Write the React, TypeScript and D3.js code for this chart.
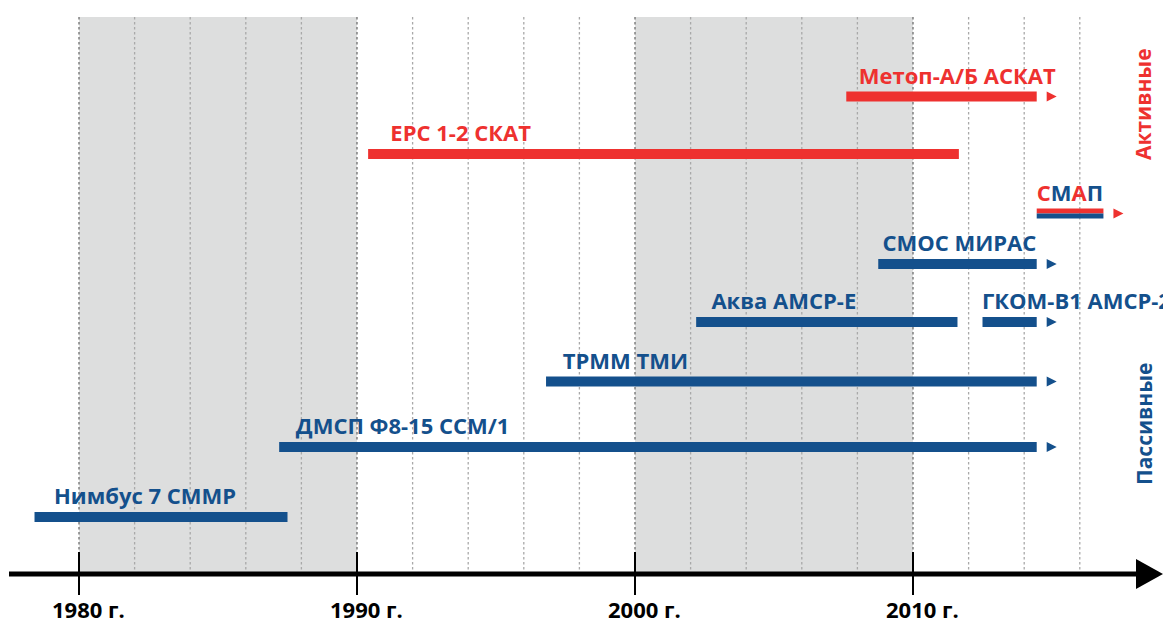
import React from 'react'
import * as d3 from 'd3'

// satellites: start / end year, where the label begins, and whether still flying
const names = ['Метоп-А/Б АСКАТ', 'ЕРС 1-2 СКАТ', 'СМАП', 'СМОС МИРАС', 'Аква АМСР-Е', 'ГКОМ-В1 АМСР-2', 'ТРММ ТМИ', 'ДМСП Ф8-15 ССМ/1', 'Нимбус 7 СММР']
const rows = ['r0', 'r1', 'r2', 'r3', 'r4', 'r4', 'r5', 'r6', 'r7']
const kinds = ['active', 'active', 'both', 'passive', 'passive', 'passive', 'passive', 'passive', 'passive']
const startYears = [2007.6, 1990.4, 2014.45, 2008.75, 2002.2, 2012.5, 1996.8, 1987.2, 1978.4]
const endYears = [2014.45, 2011.65, 2016.85, 2014.45, 2011.6, 2014.45, 2014.45, 2014.45, 1987.5]
const labelYears = [2008.05, 1991.2, 2014.45, 2008.9, 2002.75, 2012.48, 1997.4, 1987.8, 1979.1]
const ongoing = [true, false, true, true, false, true, true, true, false]

const decades = [1980, 1990, 2000, 2010]
const shadedDecades = [[1980, 1990], [2000, 2010]]
const gridYears = d3.range(1980, 2017, 2)
const groupLabels = ['Активные', 'Пассивные']

const RED = '#ee312f'
const BLUE = '#14508c'
const FONT = '"Open Sans", "DejaVu Sans", sans-serif'

const App = () => {
  const width = 1163
  const height = 624
  const top = 17
  const axisY = 574

  const x = d3.scaleLinear().domain([1980, 2010]).range([79, 913])
  const y = d3.scaleOrdinal<string, number>()
    .domain(['r0', 'r1', 'r2', 'r3', 'r4', 'r5', 'r6', 'r7'])
    .range([96.5, 154, 213.5, 264, 322, 381.5, 447, 517])

  const barH = 10

  const arrow = (x0: number, cy: number) =>
    d3.line()([[x0, cy - 5], [x0 + 10, cy], [x0, cy + 5]]) + 'Z'

  return (
    <svg width={width} height={height} style={{display: 'block', position: 'absolute', left: 0, top: 0}}>
      {shadedDecades.map(([a, b], i) => (
        <rect key={i} x={x(a)} y={top} width={x(b) - x(a)} height={axisY - top} fill="#dddede"/>
      ))}
      {gridYears.map((yr) => {
        const major = yr % 10 === 0
        return (
          <line key={yr} x1={x(yr)} x2={x(yr)} y1={top} y2={axisY}
            stroke={major ? '#6f6f6f' : '#a9a9a9'} strokeWidth={1.3} strokeDasharray="2.5,2.5"/>
        )
      })}

      {names.map((n, i) => {
        const cy = y(rows[i])
        const x0 = x(startYears[i])
        const x1 = x(endYears[i])
        const color = kinds[i] === 'active' ? RED : BLUE
        return (
          <g key={n}>
            {kinds[i] === 'both' ? (
              <>
                <rect x={x0} y={cy - barH / 2} width={x1 - x0} height={barH / 2} fill={RED}/>
                <rect x={x0} y={cy} width={x1 - x0} height={barH / 2} fill={BLUE}/>
              </>
            ) : (
              <rect x={x0} y={cy - barH / 2} width={x1 - x0} height={barH} fill={color}/>
            )}
            {ongoing[i] && (
              <path d={arrow(x1 + 10, cy)} fill={kinds[i] === 'passive' ? BLUE : RED}/>
            )}
            <text x={x(labelYears[i])} y={cy - 13} fontFamily={FONT} fontWeight={700} fontSize={22} fill={color}>
              {kinds[i] === 'both'
                ? n.split('').map((ch, k) => (
                  <tspan key={k} fill={k % 2 === 0 ? RED : BLUE}>{ch}</tspan>
                ))
                : n}
            </text>
          </g>
        )
      })}

      <line x1={9} x2={1138} y1={axisY} y2={axisY} stroke="#000" strokeWidth={5}/>
      <path d={d3.line()([[1136, axisY - 15], [1163, axisY], [1136, axisY + 15]]) + 'Z'} fill="#000"/>
      {decades.map((yr) => (
        <g key={yr}>
          <line x1={x(yr)} x2={x(yr)} y1={552} y2={595} stroke="#000" strokeWidth={2}/>
          <text x={x(yr) - 27} y={618} fontFamily={FONT} fontWeight={700} fontSize={22} fill="#000">
            {yr} г.
          </text>
        </g>
      ))}

      <text transform="translate(1151,160) rotate(-90)" fontFamily={FONT} fontWeight={700} fontSize={21} fill={RED}>
        {groupLabels[0]}
      </text>
      <text transform="translate(1152,485) rotate(-90)" fontFamily={FONT} fontWeight={700} fontSize={21} fill={BLUE}>
        {groupLabels[1]}
      </text>
    </svg>
  )
}

export default App
